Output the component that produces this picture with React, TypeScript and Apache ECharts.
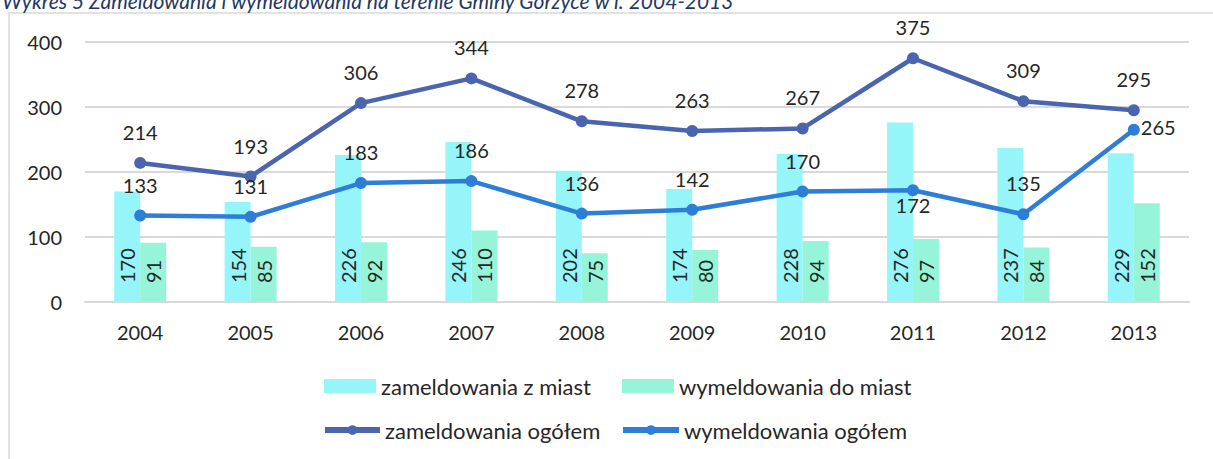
import React, { useEffect, useRef } from "react";
import * as echarts from "echarts";

const years = ["2004", "2005", "2006", "2007", "2008", "2009", "2010", "2011", "2012", "2013"];
const zamZMiast = [170, 154, 226, 246, 202, 174, 228, 276, 237, 229];
const wymDoMiast = [91, 85, 92, 110, 75, 80, 94, 97, 84, 152];
const zamOgolem = [214, 193, 306, 344, 278, 263, 267, 375, 309, 295];
const wymOgolem = [133, 131, 183, 186, 136, 142, 170, 172, 135, 265];
const wymLabelPos = ["top", "top", "top", "top", "top", "top", "top", "bottom", "top", "right"];
const yTicks = { min: 0, max: 400, interval: 100 };

const FONT = 'Lato, "Open Sans", sans-serif';
const TXT = "#262626";
const C_BAR1 = "#95F5F9";
const C_BAR2 = "#96F5D9";
const C_LINE1 = "#4A65AD";
const C_LINE2 = "#2E7ED8";

export default function App() {
  const ref = useRef<HTMLDivElement>(null);
  useEffect(() => {
    document.body.style.margin = "0";
    const chart = echarts.init(ref.current!, null, { renderer: "svg" });
    const legendText = { fontSize: 22, color: TXT, fontFamily: FONT };
    const labelFor = (pos: string) => {
      if (pos === "right") return { position: "right", distance: 1, offset: [0, -3] };
      if (pos === "bottom") return { position: "bottom", distance: -1 };
      return { position: "top", distance: 15 };
    };
    chart.setOption({
      animation: false,
      textStyle: { fontFamily: FONT },
      graphic: [
        {
          type: "rect",
          shape: { x: 9, y: 13, width: 1240, height: 470 },
          style: { fill: "none", stroke: "#d9d9d9", lineWidth: 1.5 },
          silent: true,
        },
        {
          type: "text",
          x: 2,
          y: 11,
          style: {
            text: "Wykres 5 Zameldowania i wymeldowania na terenie Gminy Gorzyce w l. 2004-2013",
            fontSize: 21,
            fontStyle: "italic",
            fill: "#1F3864",
            fontFamily: FONT,
            verticalAlign: "bottom",
          },
        },
      ],
      grid: { left: 85, right: 24, top: 42, bottom: 157, containLabel: false },
      legend: [
        { data: ["zameldowania z miast"], left: 324, top: 375, padding: 0, itemWidth: 52, itemHeight: 14, icon: "rect", textStyle: legendText, selectedMode: false },
        { data: ["wymeldowania do miast"], left: 622, top: 375, padding: 0, itemWidth: 52, itemHeight: 14, icon: "rect", textStyle: legendText, selectedMode: false },
        { data: ["zameldowania ogółem"], left: 322, top: 419, padding: 0, itemWidth: 55, itemHeight: 12, lineStyle: { width: 6 }, textStyle: legendText, selectedMode: false },
        { data: ["wymeldowania ogółem"], left: 620, top: 419, padding: 0, itemWidth: 56, itemHeight: 12, lineStyle: { width: 6 }, textStyle: legendText, selectedMode: false },
      ],
      xAxis: {
        type: "category",
        data: years,
        axisLine: { lineStyle: { color: "#d9d9d9", width: 2 } },
        axisTick: { show: false },
        axisLabel: { fontSize: 20, color: TXT, margin: 20 },
      },
      yAxis: {
        type: "value",
        min: yTicks.min,
        max: yTicks.max,
        interval: yTicks.interval,
        axisLine: { show: false },
        axisTick: { show: false },
        axisLabel: { fontSize: 20, color: TXT, margin: 23 },
        splitLine: { lineStyle: { color: "#d9d9d9", width: 2 } },
      },
      series: [
        {
          name: "zameldowania z miast",
          type: "bar",
          data: zamZMiast,
          barWidth: 26,
          barGap: "0%",
          itemStyle: { color: C_BAR1 },
          label: {
            show: true,
            position: "insideBottom",
            rotate: 90,
            align: "left",
            verticalAlign: "middle",
            distance: 19,
            fontSize: 20,
            color: TXT,
          },
        },
        {
          name: "wymeldowania do miast",
          type: "bar",
          data: wymDoMiast,
          barWidth: 26,
          barGap: "0%",
          itemStyle: { color: C_BAR2 },
          label: {
            show: true,
            position: "insideBottom",
            rotate: 90,
            align: "left",
            verticalAlign: "middle",
            distance: 19,
            fontSize: 20,
            color: TXT,
          },
        },
        {
          name: "zameldowania ogółem",
          type: "line",
          data: zamOgolem,
          symbol: "circle",
          symbolSize: 12,
          lineStyle: { color: C_LINE1, width: 4.5 },
          itemStyle: { color: C_LINE1 },
          label: { show: true, position: "top", distance: 15, fontSize: 20, color: TXT },
          z: 3,
        },
        {
          name: "wymeldowania ogółem",
          type: "line",
          data: wymOgolem.map((v, i) => ({ value: v, label: labelFor(wymLabelPos[i]) })),
          symbol: "circle",
          symbolSize: 12,
          lineStyle: { color: C_LINE2, width: 4.5 },
          itemStyle: { color: C_LINE2 },
          label: { show: true, fontSize: 20, color: TXT },
          z: 4,
        },
      ],
    });
    return () => chart.dispose();
  }, []);
  return <div ref={ref} style={{ width: 1213, height: 459 }} />;
}
